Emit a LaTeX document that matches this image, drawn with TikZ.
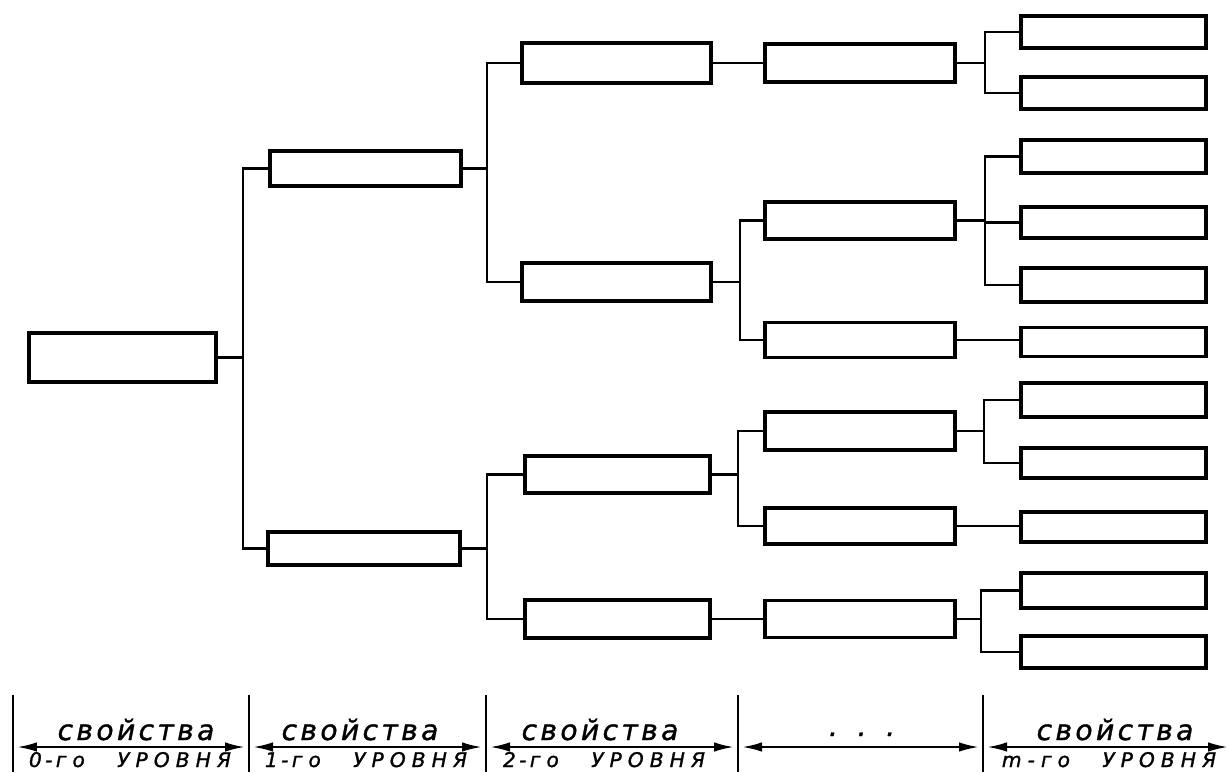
\documentclass[tikz,border=0pt]{standalone}
\usepackage{fontspec}
\usetikzlibrary{arrows.meta}
\newfontfamily\lblfont[LetterSpace=12,FakeBold=1.2]{DejaVu Sans}
\newfontfamily\botfont[LetterSpace=30,FakeBold=1.2]{DejaVu Sans}
\begin{document}
\begin{tikzpicture}[x=0.02cm,y=-0.02cm,
  bx/.style 2 args={draw, line width=2pt, minimum width=#1*0.02cm, minimum height=#2*0.02cm, inner sep=0pt, outer sep=0pt},
  ln/.style={line width=1.6pt},
  sepline/.style={line width=0.9pt},
  dimarrow/.style={line width=1.3pt, {Latex[length=4mm,width=1.9mm]}-{Latex[length=4mm,width=1.9mm]}},
  toplbl/.style={font=\lblfont\itshape\fontsize{16}{16}\selectfont, anchor=base, inner sep=0pt},
  botlbl/.style={font=\botfont\itshape\fontsize{11.5}{11.5}\selectfont, anchor=base, inner sep=0pt}
]
\useasboundingbox (0,0) rectangle (1229,772);

% level 0
\node[bx={187}{49}] (r) at (122.5,357.5) {};
% level 1
\node[bx={191}{35}] (a) at (365.5,168.5) {};
\node[bx={192}{33}] (b) at (364,548.5) {};
% level 2
\node[bx={189}{40}] (aa) at (616.5,63) {};
\node[bx={189}{38}] (ab) at (616.5,282) {};
\node[bx={185}{37}] (ba) at (617.5,474.5) {};
\node[bx={185}{38}] (bb) at (617.5,619) {};
% level 3
\node[bx={190}{38}] (aaa) at (860,63) {};
\node[bx={190}{37}] (aba) at (860,220.5) {};
\node[bx={190}{35}] (abb) at (860,340) {};
\node[bx={190}{38}] (baa) at (860,431) {};
\node[bx={190}{36}] (bab) at (860,526) {};
\node[bx={190}{37}] (bba) at (860,619) {};
% level m
\node[bx={185}{32}] (m1) at (1113.5,32) {};
\node[bx={185}{32}] (m2) at (1113.5,93) {};
\node[bx={185}{33}] (m3) at (1113.5,156.5) {};
\node[bx={185}{31}] (m4) at (1113.5,222.5) {};
\node[bx={185}{34}] (m5) at (1113.5,285) {};
\node[bx={185}{29}] (m6) at (1113.5,342) {};
\node[bx={185}{34}] (m7) at (1113.5,400) {};
\node[bx={185}{30}] (m8) at (1113.5,463) {};
\node[bx={185}{30}] (m9) at (1113.5,527) {};
\node[bx={185}{35}] (m10) at (1113.5,590.5) {};
\node[bx={185}{32}] (m11) at (1113.5,652) {};

% connectors
\draw[ln] (r.east) -- ++(27,0) |- (a.west);
\draw[ln] (r.east) -- ++(27,0) |- (b.west);
\draw[ln] (a.east) -- ++(26,0) |- (aa.west);
\draw[ln] (a.east) -- ++(26,0) |- (ab.west);
\draw[ln] (b.east) -- ++(27,0) |- (ba.west);
\draw[ln] (b.east) -- ++(27,0) |- (bb.west);
\draw[ln] (aa.east) -- (aa.east -| aaa.west);
\draw[ln] (ab.east) -- ++(29,0) |- (aba.west);
\draw[ln] (ab.east) -- ++(29,0) |- (abb.west);
\draw[ln] (ba.east) -- ++(28,0) |- (baa.west);
\draw[ln] (ba.east) -- ++(28,0) |- (bab.west);
\draw[ln] (bb.east) -- (bb.east -| bba.west);
\draw[ln] (aaa.east) -- ++(30,0) |- (m1.west);
\draw[ln] (aaa.east) -- ++(30,0) |- (m2.west);
\draw[ln] (aba.east) -- ++(30,0) |- (m3.west);
\draw[ln] (aba.east) -- ++(30,0) |- (m4.west);
\draw[ln] (aba.east) -- ++(30,0) |- (m5.west);
\draw[ln] (abb.east) -- (abb.east -| m6.west);
\draw[ln] (baa.east) -- ++(29,0) |- (m7.west);
\draw[ln] (baa.east) -- ++(29,0) |- (m8.west);
\draw[ln] (bab.east) -- (bab.east -| m9.west);
\draw[ln] (bba.east) -- ++(26,0) |- (m10.west);
\draw[ln] (bba.east) -- ++(26,0) |- (m11.west);

% bottom scale
\foreach \i/\x in {0/13,1/249,2/486,3/738,4/983}{
  \coordinate (s\i) at (\x,695);
  \coordinate (e\i) at (\x,772);
  \coordinate (p\i) at (\x,747);
  \draw[sepline] (s\i) -- (e\i);
}
\coordinate (p5) at (1228,747);
\draw[dimarrow] ([xshift=0.08cm]p0) -- ([xshift=-0.08cm]p1);
\draw[dimarrow] ([xshift=0.08cm]p1) -- ([xshift=-0.08cm]p2);
\draw[dimarrow] ([xshift=0.08cm]p2) -- ([xshift=-0.08cm]p3);
\draw[dimarrow] ([xshift=0.08cm]p3) -- ([xshift=-0.08cm]p4);
\draw[dimarrow] ([xshift=0.08cm]p4) -- (p5);

\node[toplbl] (t0) at (136,740) {свойства};
\node[toplbl] (t1) at (360,740) {свойства};
\node[toplbl] (t2) at (600,740) {свойства};
\node[toplbl] (t3) at (862,736) {.\hspace{0.7em}.\hspace{0.7em}.};
\node[toplbl] (t4) at (1115,740) {свойства};
\node[botlbl] (b0) at (130,767) {0\,-\,го\hspace{1.6em}УРОВНЯ};
\node[botlbl] (b1) at (366,767) {1\,-\,го\hspace{1.6em}УРОВНЯ};
\node[botlbl] (b2) at (604,767) {2\,-\,го\hspace{1.6em}УРОВНЯ};
\node[botlbl] (b4) at (1109,767) {m-го\hspace{1.6em}УРОВНЯ};
\end{tikzpicture}
\end{document}
